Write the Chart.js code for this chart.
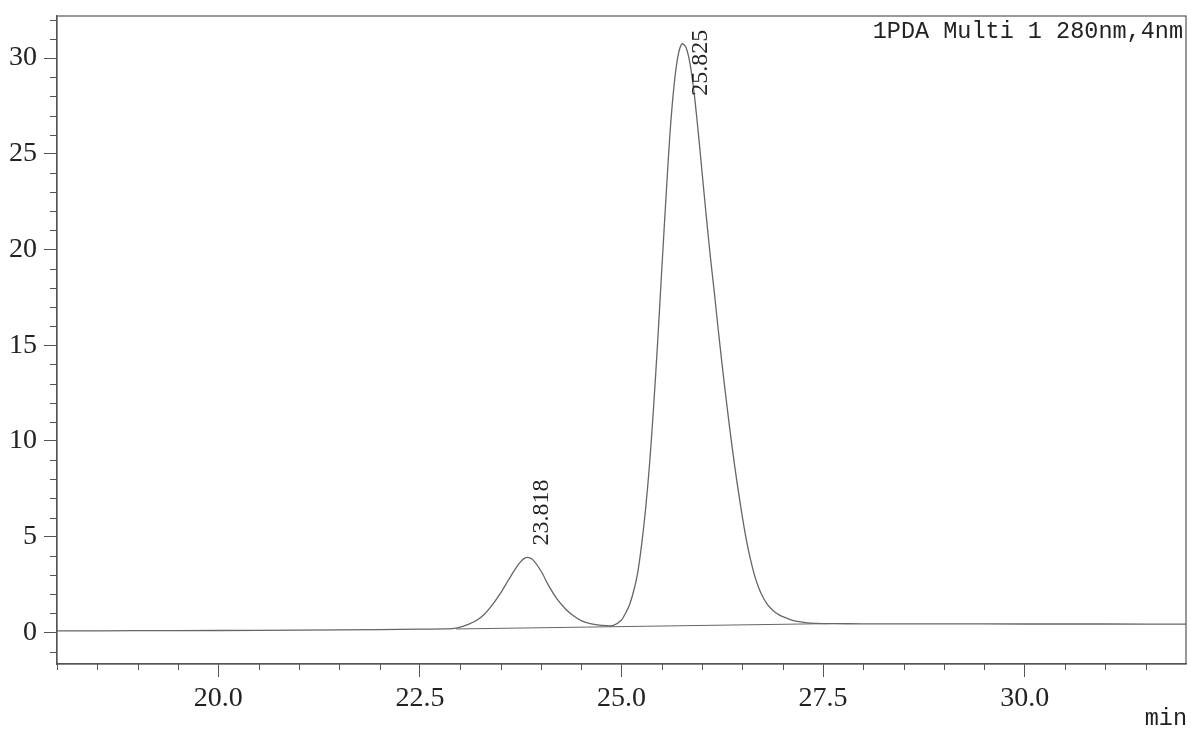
<!DOCTYPE html>
<html>
<head>
<meta charset="utf-8">
<script src="https://cdn.jsdelivr.net/npm/chart.js@4/dist/chart.umd.min.js"></script>
<style>
  html, body { margin: 0; padding: 0; background: #fff; }
</style>
</head>
<body>
<canvas id="chrom" width="1191" height="730"></canvas>
<script>
// retention time (min) and detector signal
const times = [
  18.0, 19.0, 20.0, 21.0, 22.0, 22.5, 22.8, 22.9,
  23.0, 23.1, 23.2, 23.3, 23.4, 23.5, 23.6, 23.7, 23.75, 23.8, 23.85, 23.9,
  24.0, 24.1, 24.2, 24.3, 24.4, 24.5, 24.6, 24.7, 24.8, 24.9,
  25.0, 25.05, 25.1, 25.15, 25.2, 25.25, 25.3, 25.35, 25.4, 25.45,
  25.5, 25.55, 25.6, 25.65, 25.7, 25.75, 25.8, 25.85, 25.9, 25.95,
  26.0, 26.05, 26.1, 26.15, 26.2, 26.25, 26.3, 26.35, 26.4, 26.45,
  26.5, 26.55, 26.6, 26.65, 26.7, 26.75, 26.8, 26.85, 26.9, 26.95,
  27.0, 27.1, 27.2, 27.3, 27.4, 27.6, 28.0, 29.0, 30.0, 31.0, 32.0
];
const signal = [
  0.08, 0.09, 0.10, 0.12, 0.15, 0.17, 0.18, 0.20,
  0.28, 0.42, 0.62, 0.95, 1.45, 2.05, 2.75, 3.42, 3.70, 3.88, 3.91, 3.80,
  3.22, 2.42, 1.75, 1.25, 0.88, 0.62, 0.47, 0.39, 0.35, 0.37,
  0.65, 1.00, 1.45, 2.15, 3.10, 4.60, 6.50, 8.90, 11.9, 15.3,
  19.0, 22.6, 26.0, 28.5, 30.1, 30.75, 30.55, 29.7, 28.2, 26.2,
  24.0, 21.8, 19.7, 17.8, 15.8, 13.9, 12.1, 10.4, 8.8, 7.35,
  6.0, 4.8, 3.8, 2.98, 2.35, 1.88, 1.52, 1.26, 1.07, 0.93,
  0.82, 0.66, 0.56, 0.50, 0.47, 0.46, 0.45, 0.45, 0.44, 0.44, 0.43
];
// integration baseline drawn under the peaks
const baseTimes = [22.95, 27.6];
const baseValues = [0.18, 0.46];

const peakLabels = ['23.818', '25.825'];
const channelLabel = '1PDA Multi 1 280nm,4nm';
const unitLabel = 'min';

const ink = '#222';
const lineColor = '#666';
const axisColor = '#555';

// label offsets (px) from each peak apex
const peakLabelOffsets = [{ dx: 16, dy: -12 }, { dx: 13, dy: 52 }];

function apexNear(t) {
  let best = null;
  times.forEach((x, i) => {
    if (Math.abs(x - t) < 0.3 && (!best || signal[i] > best.y)) best = { x: x, y: signal[i] };
  });
  return best;
}

const decorations = {
  id: 'decorations',
  afterDraw(chart) {
    const { ctx, chartArea: a, scales: { x, y } } = chart;
    ctx.save();
    ctx.strokeStyle = axisColor;
    ctx.lineWidth = 1.2;
    ctx.strokeRect(a.left, a.top, a.width, a.height);

    // minor ticks
    ctx.lineWidth = 1;
    ctx.beginPath();
    for (let v = Math.ceil(y.min); v <= y.max; v++) {
      if (v % 5 === 0) continue;
      const py = Math.round(y.getPixelForValue(v)) + 0.5;
      ctx.moveTo(a.left - 7, py);
      ctx.lineTo(a.left, py);
    }
    for (let v = Math.ceil(x.min * 2) / 2; v < x.max; v += 0.5) {
      if (Math.abs(v / 2.5 - Math.round(v / 2.5)) < 1e-6) continue;
      const px = Math.round(x.getPixelForValue(v)) + 0.5;
      ctx.moveTo(px, a.bottom);
      ctx.lineTo(px, a.bottom + 6);
    }
    ctx.stroke();

    // peak retention time labels
    ctx.fillStyle = ink;
    ctx.font = '24px "Liberation Serif", serif';
    ctx.textAlign = 'left';
    ctx.textBaseline = 'middle';
    peakLabels.forEach((txt, i) => {
      const t = parseFloat(txt);
      const apex = apexNear(t);
      const off = peakLabelOffsets[i];
      ctx.save();
      ctx.translate(x.getPixelForValue(t) + off.dx, y.getPixelForValue(apex.y) + off.dy);
      ctx.rotate(-Math.PI / 2);
      ctx.fillText(txt, 0, 0);
      ctx.restore();
    });

    // channel label and unit
    ctx.font = '23.5px "Liberation Mono", monospace';
    ctx.textAlign = 'right';
    ctx.fillText(channelLabel, a.right - 3, a.top + 16);
    ctx.fillText(unitLabel, 1187, 719);
    ctx.restore();
  }
};

new Chart(document.getElementById('chrom'), {
  type: 'line',
  data: {
    datasets: [{
      data: times.map((t, i) => ({ x: t, y: signal[i] })),
      borderColor: lineColor,
      borderWidth: 1.3,
      pointRadius: 0,
      tension: 0.3,
      fill: false
    }, {
      data: baseTimes.map((t, i) => ({ x: t, y: baseValues[i] })),
      borderColor: lineColor,
      borderWidth: 1,
      pointRadius: 0,
      fill: false
    }]
  },
  options: {
    responsive: false,
    animation: false,
    layout: { padding: { top: 16, right: 5, left: 0, bottom: 0 } },
    plugins: {
      legend: { display: false },
      tooltip: { enabled: false }
    },
    scales: {
      x: {
        type: 'linear',
        min: 18,
        max: 32,
        afterFit: s => { s.height = 66; s.paddingLeft = 0; s.paddingRight = 0; },
        border: { display: true, color: axisColor, width: 1.2 },
        grid: { display: true, drawOnChartArea: false, tickLength: 13, color: axisColor },
        ticks: {
          stepSize: 2.5,
          includeBounds: false,
          padding: 5,
          color: ink,
          font: { family: '"Liberation Serif", serif', size: 28 },
          callback: v => v.toFixed(1)
        }
      },
      y: {
        min: -1.65,
        max: 32.2,
        afterFit: s => { s.width = 57; s.paddingTop = 0; s.paddingBottom = 0; },
        border: { display: true, color: axisColor, width: 1.2 },
        grid: { display: true, drawOnChartArea: false, tickLength: 13, color: axisColor },
        ticks: {
          stepSize: 5,
          includeBounds: false,
          padding: 7,
          color: ink,
          font: { family: '"Liberation Serif", serif', size: 28 },
          callback: v => String(v)
        }
      }
    }
  },
  plugins: [decorations]
});
</script>
</body>
</html>
